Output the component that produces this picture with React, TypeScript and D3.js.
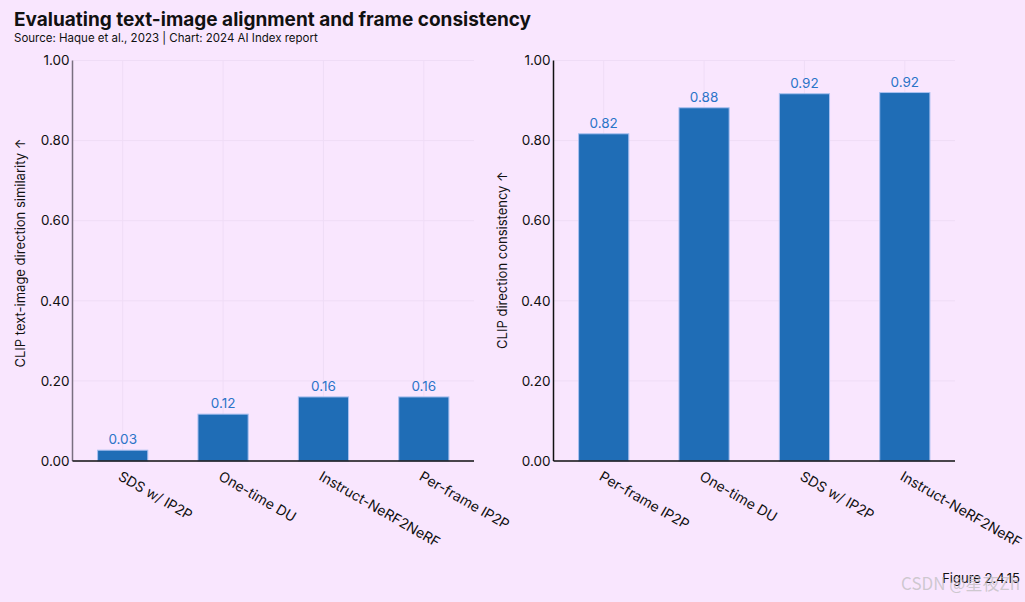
import React from "react";
import * as d3 from "d3";

const leftCategories = ["SDS w/ IP2P", "One-time DU", "Instruct-NeRF2NeRF", "Per-frame IP2P"];
const leftValues = [0.027, 0.117, 0.16, 0.16];
const leftLabels = ["0.03", "0.12", "0.16", "0.16"];

const rightCategories = ["Per-frame IP2P", "One-time DU", "SDS w/ IP2P", "Instruct-NeRF2NeRF"];
const rightValues = [0.817, 0.882, 0.917, 0.92];
const rightLabels = ["0.82", "0.88", "0.92", "0.92"];

const yTicks = [0, 0.2, 0.4, 0.6, 0.8, 1.0];

const BG = "#f9e6fe";
const BAR = "#1f6db6";
const BAR_STROKE = "#a9c0f0";
const LABEL = "#2b74c8";
const GRID = "#efdcf6";
const FONT = "Inter, 'Noto Sans', sans-serif";

type PanelProps = {
  x0: number;
  x1: number;
  categories: string[];
  values: number[];
  labels: string[];
  yTitle: string;
  yTitleX: number;
  yTitleY: number;
  axisColor: string;
};

function Panel({ x0, x1, categories, values, labels, yTitle, yTitleX, yTitleY, axisColor }: PanelProps) {
  const yTop = 60.5;
  const yBottom = 461;
  const y = d3.scaleLinear().domain([0, 1]).range([yBottom, yTop]);
  const x = d3.scaleBand<string>().domain(categories).range([x0, x1]).paddingInner(0.5).paddingOuter(0.25);
  const bw = x.bandwidth();
  return (
    <g>
      {yTicks.map((t) => (
        <line key={"h" + t} x1={x0} x2={x1} y1={y(t)} y2={y(t)} stroke={GRID} strokeWidth={1} />
      ))}
      {categories.map((c) => (
        <line key={"v" + c} x1={x(c)! + bw / 2} x2={x(c)! + bw / 2} y1={yTop} y2={yBottom} stroke={GRID} strokeWidth={1} />
      ))}
      {categories.map((c, i) => (
        <rect
          key={"b" + c}
          x={x(c)!}
          y={y(values[i])}
          width={bw}
          height={yBottom - y(values[i])}
          fill={BAR}
          stroke={BAR_STROKE}
          strokeWidth={1}
        />
      ))}
      {categories.map((c, i) => (
        <text
          key={"l" + c}
          x={x(c)! + bw / 2}
          y={y(values[i]) - 6}
          textAnchor="middle"
          fontSize={13.5}
          fill={LABEL}
          fontFamily={FONT}
        >
          {labels[i]}
        </text>
      ))}
      <line x1={x0} x2={x0} y1={yTop} y2={yBottom} stroke={axisColor} strokeWidth={1.5} />
      <line x1={x0} x2={x1} y1={yBottom} y2={yBottom} stroke="#111" strokeWidth={1.5} />
      {yTicks.map((t) => (
        <text
          key={"t" + t}
          x={x0 - 3}
          y={y(t)}
          dy="0.35em"
          textAnchor="end"
          fontSize={13.5}
          fill="#111"
          fontFamily={FONT}
        >
          {t.toFixed(2)}
        </text>
      ))}
      {categories.map((c) => (
        <text
          key={"x" + c}
          transform={`translate(${x(c)! + bw / 2 - 3},${yBottom + 14}) rotate(30)`}
          textAnchor="start"
          dy="0.35em"
          fontSize={14}
          fill="#111"
          fontFamily={FONT}
        >
          {c}
        </text>
      ))}
      <text
        transform={`translate(${yTitleX},${yTitleY}) rotate(-90)`}
        textAnchor="middle"
        fontSize={13}
        fill="#111"
        fontFamily={FONT}
      >
        {yTitle}
      </text>
    </g>
  );
}

export default function App() {
  return (
    <svg width={1025} height={602} style={{ display: "block", position: "absolute", left: 0, top: 0, background: BG }}>
      <rect x={0} y={0} width={1025} height={602} fill={BG} />
      <text x={14} y={26} fontSize={19} fontWeight={700} fill="#111" fontFamily={FONT}>
        Evaluating text-image alignment and frame consistency
      </text>
      <text x={14} y={42} fontSize={11.5} fill="#111" fontFamily={FONT}>
        Source: Haque et al., 2023 | Chart: 2024 AI Index report
      </text>
      <Panel
        x0={72.5}
        x1={474}
        categories={leftCategories}
        values={leftValues}
        labels={leftLabels}
        yTitle="CLIP text-image direction similarity ↑"
        yTitleX={25}
        yTitleY={253}
        axisColor="#7a6f80"
      />
      <Panel
        x0={553.5}
        x1={955}
        categories={rightCategories}
        values={rightValues}
        labels={rightLabels}
        yTitle="CLIP direction consistency ↑"
        yTitleX={507}
        yTitleY={260}
        axisColor="#111"
      />
      <text x={1020} y={583} textAnchor="end" fontSize={13} fill="#111" fontFamily={FONT}>
        Figure 2.4.15
      </text>
      <text x={1020} y={590} textAnchor="end" fontSize={17} fill="#bbbbbb" fillOpacity={0.7} fontFamily="'Noto Sans CJK SC', sans-serif">
        CSDN @星夜Zh
      </text>
    </svg>
  );
}
